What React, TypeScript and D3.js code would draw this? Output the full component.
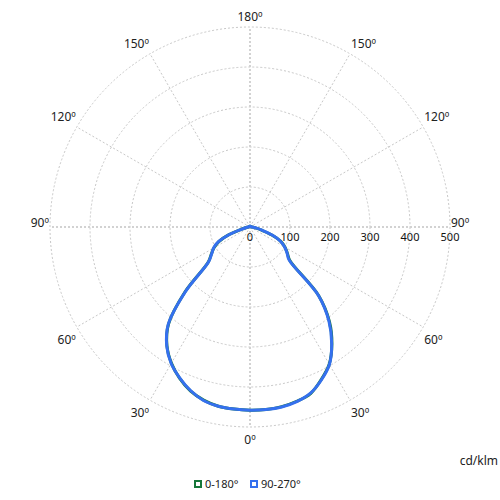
import React from 'react';
import * as d3 from 'd3';

// polar angles (deg), 0 = straight down
const angles = [0, 5, 10, 15, 20, 25, 30, 35, 40, 45, 50, 55, 60, 65, 70, 75, 80, 85, 90,
  95, 100, 105, 110, 115, 120, 125, 130, 135, 140, 145, 150, 155, 160, 165, 170, 175, 180];

// cd/klm, C0 and C180 half planes
const c0 = [458, 458, 456, 451, 443, 421, 396, 357, 309, 243, 130, 114, 101, 85, 58, 30, 16, 8, 4,
  3, 3, 3, 3, 2, 2, 2, 2, 2, 2, 2, 2, 2, 2, 2, 2, 2, 2];
const c180 = [458, 457, 455, 448, 436, 417, 393, 362, 317, 230, 136, 118, 104, 86, 56, 23, 11, 6, 4,
  3, 3, 3, 3, 2, 2, 2, 2, 2, 2, 2, 2, 2, 2, 2, 2, 2, 2];
// C90 and C270 half planes
const c90 = [458, 458, 457, 452, 442, 422, 397, 356, 307, 242, 127, 113, 100, 84, 59, 31, 17, 8, 4,
  3, 3, 3, 3, 2, 2, 2, 2, 2, 2, 2, 2, 2, 2, 2, 2, 2, 2];
const c270 = [458, 457, 455, 449, 435, 416, 394, 363, 318, 228, 135, 117, 105, 87, 55, 22, 11, 6, 4,
  3, 3, 3, 3, 2, 2, 2, 2, 2, 2, 2, 2, 2, 2, 2, 2, 2, 2];

const ringTicks = [0, 100, 200, 300, 400, 500];
const spokeAngles = [0, 30, 60, 90, 120, 150, 180, 210, 240, 270, 300, 330];
const spokeLabels = ['0º', '30º', '60º', '90º', '120º', '150º', '180º', '150º', '120º', '90º', '60º', '30º'];
const legendNames = ['0-180°', '90-270°'];
const colors = ['#16773a', '#3570ee'];

const W = 500;
const H = 500;
const cx = 250;
const cy = 227;
const font = '"Noto Sans", sans-serif';

const r = d3.scaleLinear().domain([0, 500]).range([0, 200]);
const rad = (d: number) => (d * Math.PI) / 180;

function curvePath(right: number[], left: number[]) {
  const pts: [number, number][] = [];
  // right side: 0 -> 180
  angles.forEach((a, i) => pts.push([Math.PI - rad(a), r(right[i])]));
  // left side: 180 -> 0 (skip duplicates at ends)
  for (let i = angles.length - 2; i > 0; i--) pts.push([Math.PI + rad(angles[i]), r(left[i])]);
  const line = d3.lineRadial<[number, number]>()
    .angle(d => d[0])
    .radius(d => d[1])
    .curve(d3.curveCatmullRomClosed.alpha(0.5));
  return line(pts) || '';
}

export default function App() {
  const maxR = r(500);
  return (
    <svg width={W} height={H} style={{ position: 'absolute', left: 0, top: 0, background: '#fff' }}>
      <g transform={`translate(${cx},${cy})`}>
        {ringTicks.slice(1).map(t => (
          <circle key={t} r={r(t)} fill="none" stroke="#c8c8c8" strokeWidth={1} strokeDasharray="2,2" />
        ))}
        {spokeAngles.map(a => {
          const major = a % 90 === 0;
          const x = maxR * Math.sin(rad(a));
          const y = maxR * Math.cos(rad(a));
          return (
            <line key={a} x1={0} y1={0} x2={x} y2={y}
              stroke={major ? '#d2d2d2' : '#c8c8c8'}
              strokeWidth={major ? 2 : 1}
              strokeDasharray="2,2" />
          );
        })}
        {spokeAngles.map((a, i) => {
          const s = Math.sin(rad(a));
          const c = Math.cos(rad(a));
          const x = maxR * s;
          const y = maxR * c;
          const anchor = Math.abs(s) < 0.01 ? 'middle' : s > 0 ? 'start' : 'end';
          const dx = Math.abs(s) < 0.01 ? 0 : s > 0 ? 1 : -1;
          let by = y;
          if (c > 0.01) by = y + 17;
          else if (c < -0.01) by = y - 6;
          return (
            <text key={a} x={x + dx} y={by} textAnchor={anchor} fontFamily={font} fontSize={12} fill="#222">
              {spokeLabels[i]}
            </text>
          );
        })}
        {ringTicks.map(t => (
          <text key={t} x={r(t)} y={14} textAnchor="middle" fontFamily={font} fontSize={11} fill="#111">
            {t}
          </text>
        ))}
        <path d={curvePath(c0, c180)} fill="none" stroke={colors[0]} strokeWidth={3} strokeLinejoin="round" />
        <path d={curvePath(c90, c270)} fill="none" stroke={colors[1]} strokeWidth={3} strokeLinejoin="round" />
      </g>
      <text x={498} y={465} textAnchor="end" fontFamily={font} fontSize={12} fill="#222">cd/klm</text>
      <g transform="translate(192,484)">
        {legendNames.map((n, i) => {
          const ox = i * 56;
          return (
            <g key={n} transform={`translate(${ox},0)`}>
              <rect x={3} y={-3} width={6} height={6} fill="#fff" stroke={colors[i]} strokeWidth={2} />
              <text x={13} y={4} fontFamily={font} fontSize={11} fill="#222">{n}</text>
            </g>
          );
        })}
      </g>
    </svg>
  );
}
